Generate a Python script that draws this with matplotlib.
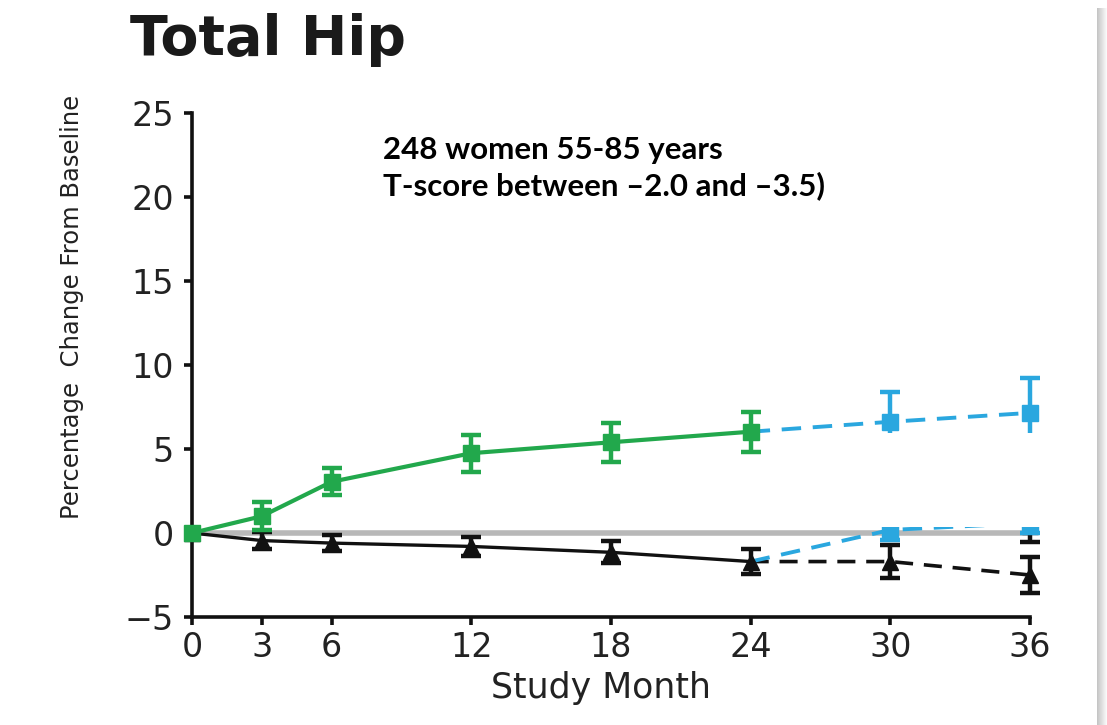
import matplotlib
matplotlib.use("Agg")
import matplotlib.pyplot as plt
from matplotlib.patches import Rectangle

# ---- data ----
months_main = [0, 3, 6, 12, 18, 24]
months_ext = [24, 30, 36]
tick_months = [0, 3, 6, 12, 18, 24, 30, 36]

denosumab = [0, 1.0, 3.05, 4.75, 5.4, 6.03]
denosumab_err = [0, 0.85, 0.8, 1.1, 1.15, 1.2]

placebo = [0, -0.45, -0.6, -0.8, -1.15, -1.7]
placebo_err = [0, 0.5, 0.5, 0.55, 0.65, 0.75]

placebo_off = [-1.7, -1.7, -2.5]
placebo_off_err = [0, 0.97, 1.1]

dmab_cont = [6.03, 6.62, 7.15]
dmab_cont_err = [0, 1.8, 2.1]

placebo_to_dmab = [-1.7, 0.18, 0.6]
placebo_to_dmab_err = [0, 0.6, 0.6]

dmab_off = [6.03, 1.5, 0.4]
dmab_off_err = [0, 0.9, 0.92]

yticks = [-5, 0, 5, 10, 15, 20, 25]

GREEN = "#22a84c"
BLUE = "#2aa7df"
BLACK = "#111111"
GRAY = "#b8b8b8"

W, H = 1107, 725
AX_L, AX_R, AX_T, AX_B = 192, 1030, 113, 617
fig = plt.figure(figsize=(W / 100, H / 100), dpi=100)
fig.patch.set_facecolor("white")

ax = fig.add_axes([AX_L / W, 1 - AX_B / H, (AX_R - AX_L) / W, (AX_B - AX_T) / H])
ax.set_xlim(0, 36)
ax.set_ylim(-5, 25)

for s in ("top", "right"):
    ax.spines[s].set_visible(False)
for s in ("left", "bottom"):
    ax.spines[s].set_linewidth(2.6)
    ax.spines[s].set_color(BLACK)

ax.set_xticks(tick_months)
ax.set_yticks(yticks)
ax.set_yticklabels([str(v).replace("-", "\u2212") for v in yticks])
ax.tick_params(direction="out", length=6, width=2.6, color=BLACK,
               labelsize=24, labelcolor="#222222", pad=7)
ax.tick_params(axis="x", pad=4)
for lbl in ax.get_xticklabels() + ax.get_yticklabels():
    lbl.set_family("DejaVu Sans")

ax.set_xlabel("Study Month", fontsize=25, family="DejaVu Sans", color="#222222")
ax.xaxis.label.set_va("center")
ax.xaxis.set_label_coords((601 - AX_L) / (AX_R - AX_L), (AX_B - 688) / (AX_B - AX_T))
ax.set_ylabel("Percentage  Change From Baseline", fontsize=17.5,
              family="DejaVu Sans", color="#222222")
ax.yaxis.label.set_va("center")
ax.yaxis.set_label_coords((72 - AX_L) / (AX_R - AX_L), (AX_B - 307) / (AX_B - AX_T))

# baseline reference line
ax.axhline(0, color=GRAY, lw=4, zorder=1)

eb_kw = dict(capsize=7, capthick=3.2, elinewidth=3.2, clip_on=False)


def series(x, y, e, color, marker, ls, lw, show_first=True, z=3):
    ax.plot(x, y, color=color, ls=ls, lw=lw, zorder=z, clip_on=False,
            dashes=(5, 3) if ls == "--" else (None, None))
    xs = [xi for xi, ei in zip(x, e) if ei > 0]
    ys = [yi for yi, ei in zip(y, e) if ei > 0]
    es = [ei for ei in e if ei > 0]
    if xs:
        ax.errorbar(xs, ys, yerr=es, fmt="none", ecolor=color, zorder=z, **eb_kw)
    if marker:
        mx = x if show_first else x[1:]
        my = y if show_first else y[1:]
        ax.plot(mx, my, ls="none", marker=marker, ms=11, color=color,
                zorder=z + 0.5, clip_on=False)


# off-treatment continuation, partly covered by the white panel below
series(months_ext, dmab_off, dmab_off_err, BLACK, "^", "--", 2.6, False, z=2)

series(months_ext, placebo_off, placebo_off_err, BLACK, "^", "--", 2.6, False)
series(months_ext, placebo_to_dmab, placebo_to_dmab_err, BLUE, "s", "--", 2.8, False)
series(months_main, placebo, placebo_err, BLACK, "^", "-", 2.4)
series(months_ext, dmab_cont, dmab_cont_err, BLUE, "s", "--", 2.8, False)
series(months_main, denosumab, denosumab_err, GREEN, "s", "-", 3.0, z=4)

# white panel over the extension region
ax.add_patch(Rectangle((24.3, 0.38), 12.2, 5.57, facecolor="white",
                       edgecolor="none", zorder=3.8, clip_on=False))

# title and annotation
fig.text(130 / W, 1 - 40 / H, "Total Hip", fontsize=40, fontweight="bold",
         family="DejaVu Sans", color="#1a1a1a", va="center", ha="left")
fig.text(383 / W, 1 - 150 / H, "248 women 55-85 years", fontsize=22.5,
         fontweight="bold", family="Lato", color="black", va="center")
fig.text(383 / W, 1 - 186 / H, "T-score between \u20132.0 and \u20133.5)",
         fontsize=22.5, fontweight="bold", family="Lato", color="black",
         va="center")

# frame shadow on the right edge
for i in range(10):
    a = 0.45 * (1 - i / 10)
    fig.add_artist(Rectangle(((1097 + i) / W, 0), 1 / W, 1 - 8 / H,
                             transform=fig.transFigure, facecolor="#808080",
                             alpha=a, edgecolor="none"))

fig.savefig("out.png", dpi=100, facecolor="white")
